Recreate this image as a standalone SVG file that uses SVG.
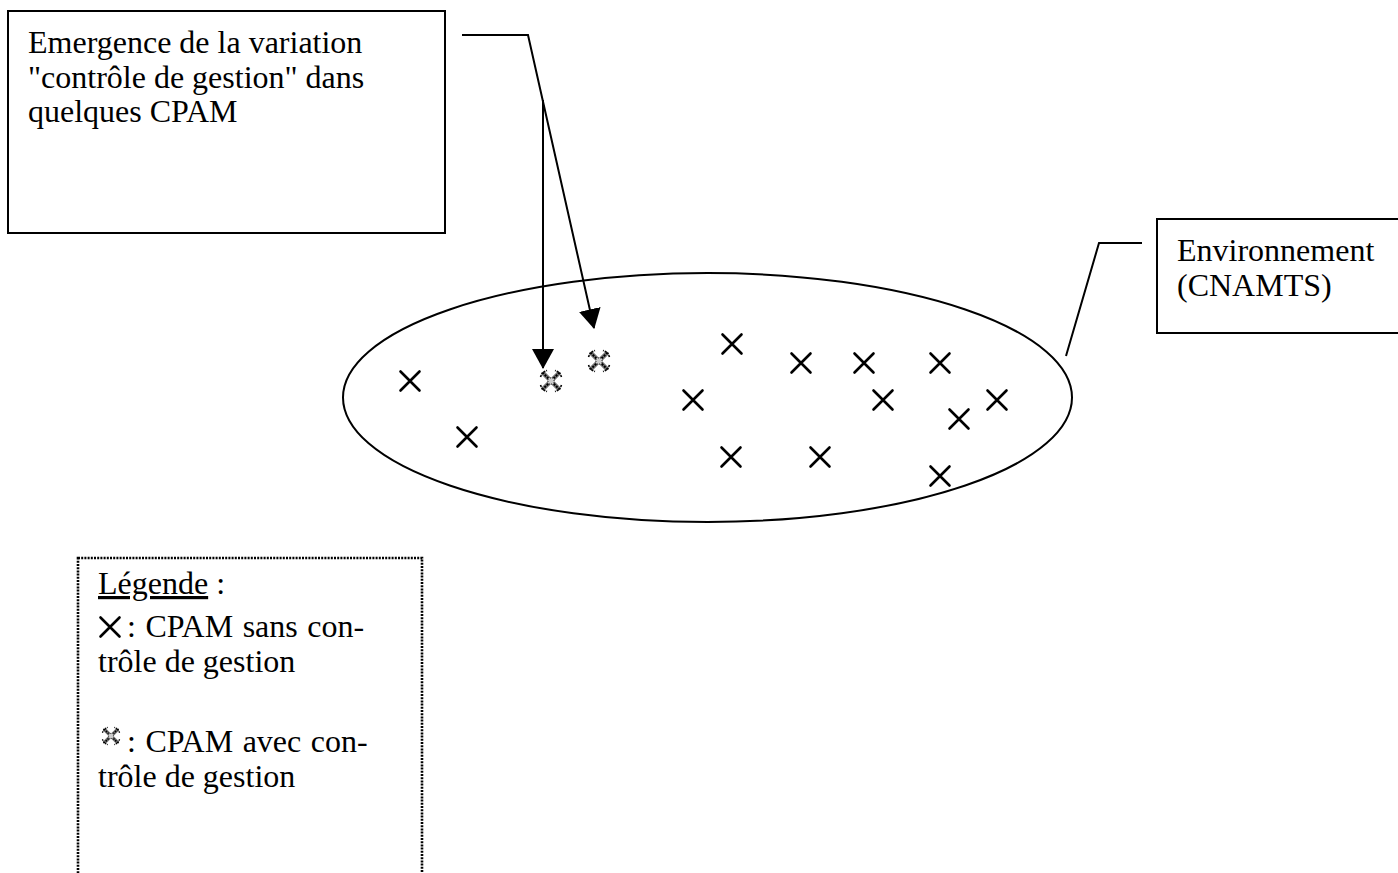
<svg xmlns="http://www.w3.org/2000/svg" width="1398" height="873" viewBox="0 0 1398 873">
<style>
  .box{fill:#fff;stroke:#000;stroke-width:2}
  .legend{fill:#fff;stroke:#000;stroke-width:2.6;stroke-dasharray:2 1.2}
  .txt{font-family:"Liberation Serif","Times New Roman",serif;font-size:32px;fill:#000}
  .line{fill:none;stroke:#000;stroke-width:2}
  .mk{fill:none;stroke:#000;stroke-width:2.6;stroke-linecap:round}
  .env{fill:none;stroke:#000;stroke-width:2}
</style>
<defs>
  <marker id="ah" viewBox="0 0 20 22" refX="19" refY="11" markerWidth="20" markerHeight="22" markerUnits="userSpaceOnUse" orient="auto">
    <path d="M0,0 L20,11 L0,22 Z" fill="#000"/>
  </marker>
  <symbol id="x" viewBox="-11 -11 22 22" width="22" height="22" overflow="visible">
    <path class="mk" d="M-9.5,-9.5 L9.5,9.5 M9.5,-9.5 L-9.5,9.5"/>
  </symbol>
  <symbol id="xc" viewBox="-11 -11 22 22" width="22" height="22" overflow="visible">
    <path d="M-8,-8 L8,8 M8,-8 L-8,8" fill="none" stroke="#777" stroke-width="4.5"/>
    <path d="M-8.5,-8.5 L8.5,8.5 M8.5,-8.5 L-8.5,8.5" fill="none" stroke="#000" stroke-width="2" stroke-dasharray="2 1.2"/>
    <path d="M-10.5,-4 L-8.5,-8.5 L-4,-10.5 M10.5,-4 L8.5,-8.5 L4,-10.5 M-10.5,4 L-8.5,8.5 L-4,10.5 M10.5,4 L8.5,8.5 L4,10.5" fill="none" stroke="#000" stroke-width="1.6" stroke-dasharray="2 1"/>
    <rect x="-3" y="-3" width="6" height="6" fill="#ccc" stroke="#333" stroke-width="1" stroke-dasharray="1 1"/>
  </symbol>
</defs>
<rect width="1398" height="873" fill="#fff"/>

<g id="environnement">
  <ellipse class="env" cx="707.5" cy="397.5" rx="364.5" ry="124.5"/>
  <g id="cpam-sans">
    <use href="#x" x="399" y="370"/>
    <use href="#x" x="456" y="426"/>
    <use href="#x" x="721" y="333"/>
    <use href="#x" x="790" y="352"/>
    <use href="#x" x="853" y="352"/>
    <use href="#x" x="929" y="352"/>
    <use href="#x" x="682" y="389"/>
    <use href="#x" x="872" y="389"/>
    <use href="#x" x="986" y="389"/>
    <use href="#x" x="948" y="408"/>
    <use href="#x" x="720" y="446"/>
    <use href="#x" x="809" y="446"/>
    <use href="#x" x="929" y="465"/>
  </g>
  <g id="cpam-avec">
    <use href="#xc" x="540" y="370"/>
    <use href="#xc" x="588" y="350"/>
  </g>
</g>

<g id="emergence">
  <rect class="box" x="8" y="11" width="437" height="222"/>
  <text class="txt" x="28" y="53">Emergence de la variation</text>
  <text class="txt" x="28" y="88">"contrôle de gestion" dans</text>
  <text class="txt" x="28" y="122">quelques CPAM</text>
</g>

<g id="label-env">
  <rect class="box" x="1157" y="219" width="260" height="114"/>
  <text class="txt" x="1177" y="261">Environnement</text>
  <text class="txt" x="1177" y="296">(CNAMTS)</text>
</g>

<g id="legende">
  <rect class="legend" x="78" y="558" width="344" height="340"/>
  <text class="txt" x="98" y="594"><tspan text-decoration="underline">Légende</tspan> :</text>
  <use href="#x" x="99" y="616"/>
  <text class="txt" x="127" y="637" word-spacing="1.5">: CPAM sans con-</text>
  <text class="txt" x="98" y="672">trôle de gestion</text>
  <use href="#xc" x="102" y="727" width="18" height="18"/>
  <text class="txt" x="127" y="752" word-spacing="1.5">: CPAM avec con-</text>
  <text class="txt" x="98" y="787">trôle de gestion</text>
</g>

<g id="connectors">
  <path class="line" d="M462,35 L528,35 L594,328" marker-end="url(#ah)"/>
  <path class="line" d="M543,100 L543,368" marker-end="url(#ah)"/>
  <path class="line" d="M1142,243 L1099,243 L1066,356"/>
</g>
</svg>
